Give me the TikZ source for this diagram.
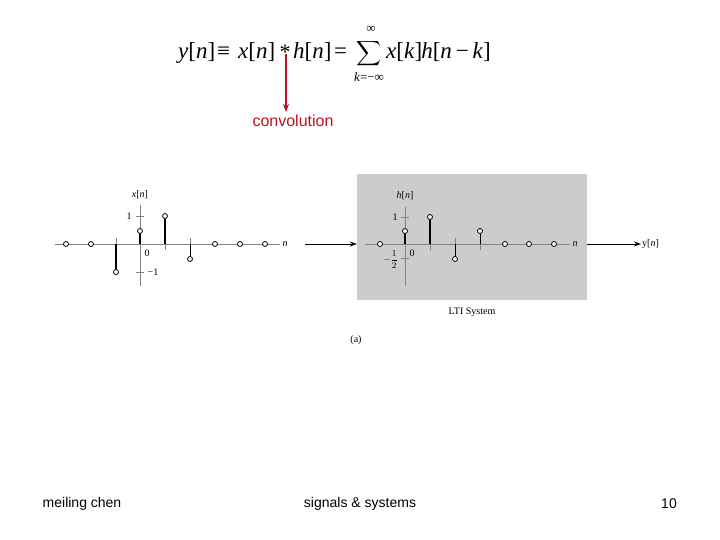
\documentclass[tikz,border=0pt]{standalone}
\usepackage{amsmath}
\usepackage{fontspec}
\setmainfont{Liberation Serif}
\setsansfont{Liberation Sans}
\usetikzlibrary{arrows.meta}
\definecolor{convred}{RGB}{192,16,32}
\definecolor{sysgray}{RGB}{204,204,204}
\definecolor{axgray}{RGB}{130,130,130}
\tikzset{
  axisline/.style={draw=axgray, line width=0.9pt},
  stemthick/.style={draw=black, line width=2pt},
  stemthin/.style={draw=black, line width=1pt},
  sample/.style={circle, draw=black, fill=white, line width=0.8pt, inner sep=0pt, minimum size=5pt},
  plotlabel/.style={font=\fontsize{10}{12}\selectfont, inner sep=1pt},
  footer/.style={font=\sffamily\fontsize{14}{16}\selectfont, inner sep=0pt},
  flowarrow/.style={draw=black, line width=1pt, -{Stealth[length=7pt,width=5pt]}},
  fpart/.style={anchor=base west, inner sep=0pt, font=\fontsize{23}{25}\selectfont},
  fsmall/.style={inner sep=0pt, font=\fontsize{13}{14}\selectfont},
}
\begin{document}
\begin{tikzpicture}[x=1pt,y=-1pt]
\useasboundingbox (0,0) rectangle (720,540);
% formula
\node[fpart] (fy) at (178,59) {\textit{y}[\textit{n}]};
\node[fpart] (feq) at (217,59) {≡};
\node[fpart] (fx) at (238,59) {\textit{x}[\textit{n}]};
\node[inner sep=0pt, font=\fontsize{22}{24}\selectfont] (star) at (285,52) {*};
\node[fpart] (fh) at (293,59) {\textit{h}[\textit{n}]};
\node[fpart] (fequals) at (334,59) {=};
\node[inner sep=0pt, font=\fontsize{18}{20}\selectfont, text height=11pt, text depth=11pt] (sigma) at (369,58) {$\displaystyle\sum$};
\node[fsmall, text height=5pt, text depth=0pt] (supper) at (371,30) {∞};
\node[fsmall] (slower) at (369,77) {\textit{k}=−∞};
\node[fpart] (fsum) at (386,59) {\textit{x}[\textit{k}]\kern-1pt\textit{h}[\textit{n}\,−\,\textit{k}]};
\coordinate (starfoot) at (286,54);
\node[text=convred, font=\sffamily\fontsize{16}{18}\selectfont, inner sep=1pt] (conv) at (293,121) {convolution};
\draw[draw=convred, line width=1.2pt, -{Stealth[length=8pt,width=6pt]}] (starfoot) -- (286,112);

% ---------- x[n] plot ----------
\draw[axisline] (55,244) -- (280,244);
\draw[axisline] (140,205) -- (140,286);
\draw[axisline] (136,216) -- (144,216);
\draw[axisline] (136,272) -- (144,272);
\draw[axisline] (116,238) -- (116,244);
\draw[axisline] (165,244) -- (165,250);
\draw[axisline] (190,238) -- (190,244);
\node[plotlabel] (xnlab) at (140,195) {\textit{x}[\textit{n}]};
\node[plotlabel] (xnn) at (285,244) {\textit{n}};
\node[plotlabel] (xone) at (129,216) {1};
\node[plotlabel] (xmone) at (153,272) {−1};
\node[plotlabel] (xzero) at (147,253) {0};
\draw[stemthick] (116,244) -- (116,272);
\draw[stemthick] (140,244) -- (140,231);
\draw[stemthick] (165,244) -- (165,216);
\draw[stemthin] (190,244) -- (190,259);
\foreach \px/\py in {66/244, 91/244, 116/272, 140/231, 165/216, 190/259, 215/244, 240/244, 265/244}
  \node[sample] at (\px,\py) {};

% ---------- system ----------
\node[fill=sysgray, draw=none, minimum width=230pt, minimum height=126pt, inner sep=0pt] (sys) at (472,237) {};
\coordinate (inarrow) at (305,244);
\draw[flowarrow] (inarrow) -- (sys.west |- inarrow);
\node[plotlabel, anchor=west] (ylab) at (641,244) {y[\textit{n}]};
\draw[flowarrow] (sys.east |- ylab) -- (ylab.west);
\node[plotlabel] (lti) at (472,312) {LTI System};
\node[plotlabel] (alab) at (356,340) {(a)};

% ---------- h[n] plot ----------
\draw[axisline] (365,244) -- (570,244);
\draw[axisline] (405,207) -- (405,286);
\draw[axisline] (401,217) -- (409,217);
\draw[axisline] (401,258) -- (409,258);
\draw[axisline] (430,244) -- (430,250);
\draw[axisline] (455,238) -- (455,244);
\draw[axisline] (480,244) -- (480,250);
\node[plotlabel] (hnlab) at (405,196) {\textit{h}[\textit{n}]};
\node[plotlabel] (hnn) at (575,244) {\textit{n}};
\node[plotlabel] (hone) at (395,217) {1};
\node[plotlabel, anchor=east, font=\fontsize{9}{10}\selectfont] (hhalf) at (399,260) {$-{\displaystyle\frac{1}{2}}$};
\node[plotlabel] (hzero) at (412,253) {0};
\draw[stemthick] (405,244) -- (405,231);
\draw[stemthick] (430,244) -- (430,217);
\draw[stemthin] (455,244) -- (455,259);
\draw[stemthin] (480,244) -- (480,231);
\foreach \px/\py in {380/244, 405/231, 430/217, 455/259, 480/231, 505/244, 529/244, 554/244}
  \node[sample] at (\px,\py) {};

% ---------- footer ----------
\node[footer] (auth) at (82,504) {meiling chen};
\node[footer] (course) at (360,504) {signals \& systems};
\node[footer] (page) at (669,504) {10};
\end{tikzpicture}
\end{document}
